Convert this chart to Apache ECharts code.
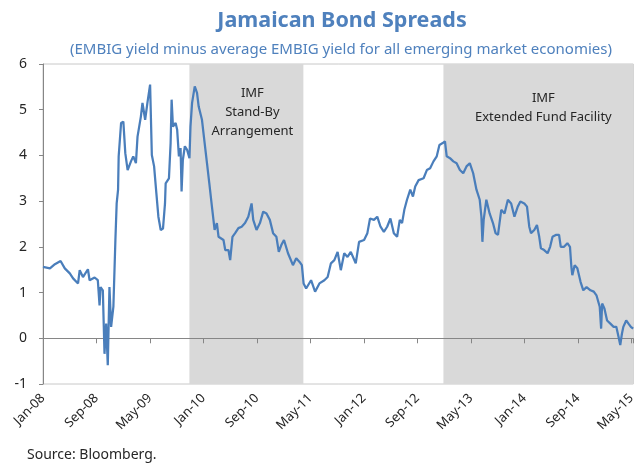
<!DOCTYPE html>
<html>
<head>
<meta charset="utf-8">
<title>Jamaican Bond Spreads</title>
<script src="https://cdn.jsdelivr.net/npm/echarts@6/dist/echarts.min.js"></script>
<style>
  html, body { margin: 0; padding: 0; background: #fff; }
  #chart { width: 638px; height: 467px; }
</style>
</head>
<body>
<div id="chart"></div>
<script>
// x positions are months since Jan-2008 (0 = Jan-08, 8 = Sep-08, ...)
const monthPos = [
  0, 1.04, 1.78, 2.63, 3.26, 4.01, 4.5, 5.24, 5.49, 5.98,
  6.72, 6.97, 7.72, 8.2, 8.46, 8.61, 8.95, 9.2, 9.45, 9.69,
  9.94, 10.19, 10.53, 10.83, 11.02, 11.23, 11.32, 11.68, 12.02, 12.31,
  12.66, 13.16, 13.5, 13.9, 14.14, 14.64, 14.88, 15.28, 15.62, 16.02,
  16.28, 16.62, 16.96, 17.26, 17.61, 17.95, 18.25, 18.35, 18.84, 19.09,
  19.24, 19.44, 19.84, 20.07, 20.33, 20.58, 20.73, 20.92, 21.22, 21.56,
  21.91, 22.06, 22.3, 22.7, 23.04, 23.29, 23.78, 24.18, 24.53, 24.88,
  25.27, 25.67, 26.01, 26.26, 27.0, 27.26, 27.74, 28.0, 28.34, 28.74,
  29.23, 29.72, 30.22, 30.71, 31.2, 31.45, 31.94, 32.45, 32.94, 33.43,
  33.93, 34.42, 34.91, 35.27, 35.65, 36.05, 36.65, 37.39, 37.88, 38.38,
  38.72, 38.98, 39.36, 40.1, 40.7, 41.35, 42.09, 42.58, 43.07, 43.58,
  44.07, 44.55, 45.06, 45.55, 46.04, 46.78, 47.28, 48.03, 48.52, 48.92,
  49.51, 50.0, 50.49, 50.99, 51.48, 51.97, 52.48, 52.97, 53.37, 53.71,
  54.05, 54.45, 54.94, 55.34, 55.68, 56.19, 56.93, 57.42, 57.91, 58.41,
  58.9, 59.3, 59.79, 60.13, 60.39, 60.88, 61.38, 61.87, 62.36, 62.86,
  63.35, 63.84, 64.35, 64.84, 65.33, 65.58, 65.73, 65.92, 66.32, 66.81,
  67.31, 67.7, 68.06, 68.55, 69.04, 69.54, 70.03, 70.52, 71.02, 71.41,
  72.0, 72.4, 72.74, 73.0, 73.49, 73.89, 74.23, 74.48, 74.97, 75.48,
  75.86, 76.22, 76.71, 77.2, 77.45, 77.94, 78.44, 78.83, 79.04, 79.18,
  79.53, 79.93, 80.42, 80.82, 81.31, 81.9, 82.39, 82.79, 82.98, 83.28,
  83.49, 83.64, 83.98, 84.38, 84.87, 85.36, 85.76, 86.1, 86.35, 86.6,
  86.81, 87.24, 87.58, 87.94, 88.28
];

const spread = [
  1.56, 1.53, 1.62, 1.69, 1.53, 1.42, 1.31, 1.2, 1.49, 1.34,
  1.51, 1.27, 1.33, 1.27, 0.72, 1.12, 1.05, -0.34, 0.32, -0.59,
  1.12, 0.25, 0.69, 2.15, 2.95, 3.25, 3.98, 4.71, 4.74, 4.05,
  3.68, 3.87, 3.98, 3.83, 4.41, 4.85, 5.15, 4.78, 5.15, 5.55,
  4.01, 3.76, 3.17, 2.66, 2.37, 2.4, 2.95, 3.39, 3.5, 4.27,
  5.22, 4.63, 4.71, 4.56, 3.98, 4.16, 3.21, 3.9, 4.2, 4.12,
  3.94, 4.63, 5.15, 5.51, 5.37, 5.07, 4.78, 4.27, 3.83, 3.39,
  2.88, 2.37, 2.52, 2.22, 2.15, 1.93, 1.93, 1.71, 2.22, 2.3,
  2.41, 2.44, 2.52, 2.66, 2.95, 2.59, 2.37, 2.52, 2.77, 2.73,
  2.59, 2.3, 2.22, 1.89, 2.04, 2.15, 1.86, 1.6, 1.75, 1.67,
  1.6, 1.2, 1.09, 1.27, 1.02, 1.2, 1.27, 1.34, 1.64, 1.71,
  1.89, 1.49, 1.86, 1.78, 1.89, 1.64, 2.11, 2.15, 2.3, 2.62,
  2.59, 2.66, 2.44, 2.33, 2.44, 2.62, 2.3, 2.22, 2.59, 2.52,
  2.81, 3.03, 3.25, 3.1, 3.32, 3.46, 3.5, 3.68, 3.72, 3.87,
  3.98, 4.23, 4.27, 4.31, 3.98, 3.94, 3.87, 3.83, 3.68, 3.61,
  3.76, 3.83, 3.61, 3.25, 3.03, 2.66, 2.11, 2.59, 3.03, 2.73,
  2.52, 2.3, 2.26, 2.81, 2.73, 3.03, 2.95, 2.66, 2.88, 2.99,
  2.95, 2.88, 2.44, 2.3, 2.37, 2.48, 2.22, 1.97, 1.93, 1.86,
  2.0, 2.22, 2.26, 2.26, 2.0, 2.0, 2.08, 2.0, 1.56, 1.38,
  1.6, 1.53, 1.23, 1.05, 1.12, 1.05, 1.02, 0.94, 0.98, 0.69,
  0.21, 0.76, 0.65, 0.39, 0.32, 0.25, 0.25, 0.03, -0.15, 0.1,
  0.25, 0.39, 0.32, 0.25, 0.21
];

// IMF programme periods, same month scale
const standBy = [21.9, 38.95];
const extendedFund = [59.9, 88.3];

const monthNames = ['Jan', 'Feb', 'Mar', 'Apr', 'May', 'Jun', 'Jul', 'Aug', 'Sep', 'Oct', 'Nov', 'Dec'];
const xMax = 88.3;

function monthLabel(v) {
  if (Math.abs(v % 8) > 1e-6) return '';
  const y = 8 + Math.floor(v / 12);
  return monthNames[v % 12] + '-' + String(y).padStart(2, '0');
}

const FONT = '"Noto Sans", "Open Sans", sans-serif';
const BLUE = '#4f81bd';

const chart = echarts.init(document.getElementById('chart'), null, { renderer: 'canvas' });

chart.setOption({
  animation: false,
  backgroundColor: '#fff',
  textStyle: { fontFamily: FONT },
  title: [
    {
      text: 'Jamaican Bond Spreads',
      left: 337, top: 5, textAlign: 'center',
      textStyle: { color: BLUE, fontSize: 21.5, fontWeight: 'bold', fontFamily: FONT }
    },
    {
      text: '(EMBIG yield minus average EMBIG yield for all emerging market economies)',
      left: 336, top: 37, textAlign: 'center',
      textStyle: { color: BLUE, fontSize: 15, fontWeight: 'normal', fontFamily: FONT }
    }
  ],
  grid: {
    left: 43, top: 64, right: 0, bottom: 83,
    show: true, borderColor: '#c8c8c8', borderWidth: 1, backgroundColor: 'transparent'
  },
  xAxis: [
    {
      type: 'value', min: 0, max: xMax, interval: 8, position: 'bottom', z: 3,
      axisLine: { onZero: true, lineStyle: { color: '#868686', width: 1 } },
      axisTick: { show: true, length: 5, lineStyle: { color: '#868686' } },
      axisLabel: { show: false },
      splitLine: { show: false }
    },
    {
      type: 'value', min: 0, max: xMax, interval: 8, position: 'bottom',
      axisLine: { show: false, onZero: false },
      axisTick: { show: false },
      axisLabel: {
        rotate: 45, margin: 12, fontSize: 13, color: '#262626', fontFamily: FONT,
        formatter: monthLabel
      },
      splitLine: { show: false }
    }
  ],
  yAxis: {
    type: 'value', min: -1, max: 6, interval: 1, z: 3,
    axisLine: { show: true, lineStyle: { color: '#868686' } },
    axisTick: { show: true, length: 4, lineStyle: { color: '#868686' } },
    axisLabel: { margin: 16, fontSize: 14, color: '#262626', fontFamily: FONT },
    splitLine: { show: false }
  },
  series: [
    {
      type: 'line',
      xAxisIndex: 0,
      data: monthPos.map((m, i) => [m, spread[i]]),
      showSymbol: false,
      lineStyle: { color: '#4a7ebb', width: 2.25 },
      markArea: {
        silent: true,
        itemStyle: { color: '#d9d9d9' },
        label: { color: '#262626', fontSize: 13, lineHeight: 19, fontFamily: FONT },
        data: [
          [
            {
              xAxis: standBy[0],
              label: { show: true, position: 'insideTop', distance: 20, offset: [6, 0], formatter: 'IMF\nStand-By\nArrangement' }
            },
            { xAxis: standBy[1] }
          ],
          [
            {
              xAxis: extendedFund[0],
              label: { show: true, position: 'insideTop', distance: 25, offset: [5, 0], formatter: 'IMF\nExtended Fund Facility' }
            },
            { xAxis: extendedFund[1] }
          ]
        ]
      }
    }
  ],
  graphic: [
    {
      type: 'text', left: 27, top: 448,
      style: { text: 'Source: Bloomberg.', fill: '#262626', font: '14px ' + FONT }
    }
  ]
});
</script>
</body>
</html>
